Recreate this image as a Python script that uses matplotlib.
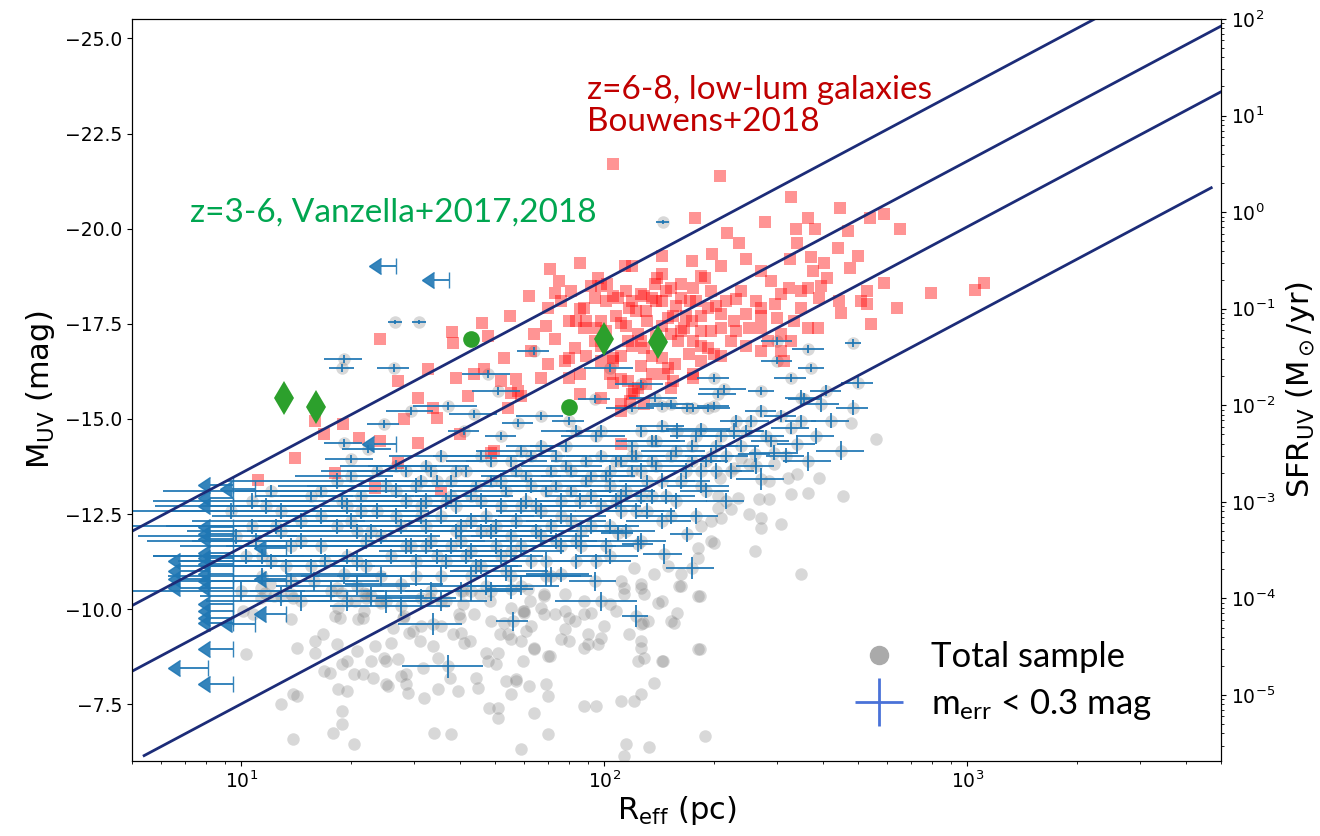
import numpy as np
import matplotlib
matplotlib.use("Agg")
import matplotlib.pyplot as plt
from matplotlib.lines import Line2D
from matplotlib.ticker import MultipleLocator

plt.rcParams['mathtext.rm'] = 'Lato'
plt.rcParams['mathtext.it'] = 'Lato:italic'
plt.rcParams['mathtext.bf'] = 'Lato:bold'

# ---- z=6-8 lensed low-luminosity galaxies (Bouwens+2018): R_eff [pc], M_UV ----
bouwens_r = [106, 208, 327, 447, 590, 540, 178, 365, 277, 338, 380, 654, 470, 218, 235, 340,
             440, 198, 325, 500, 245, 372, 86, 402, 475, 71, 114, 377, 795, 590, 530, 640,
             530, 544, 1110, 1050, 410, 450, 390, 365, 349, 322, 307, 295, 271, 246, 231, 210,
             193, 189, 176, 163, 153, 144, 138, 135, 126, 117, 109, 102, 96, 94, 86, 80,
             88, 98, 111, 124, 150, 153, 166, 176, 193, 210, 228, 250, 271, 300, 307, 283,
             307, 313, 333, 365, 387, 160, 171, 185, 201, 176, 150, 144, 129, 116, 106, 94,
             83, 78, 86, 104, 116, 135, 155, 98, 86, 119, 129, 153, 24.1, 38.1, 46.1, 55.1,
             38.4, 47.8, 27.1, 32.7, 39.1, 30.7, 33.8, 34.5, 28.1, 19.1, 16.9, 21.1, 24.1, 30.7,
             27.1, 18.1, 42.2, 43.9, 46.7, 53, 52, 57.2, 58, 54.4, 62.9, 64, 75, 73,
             62, 70, 88, 95, 73, 80, 70, 67, 80, 106, 111, 111, 121, 130, 146, 157,
             176, 129, 140, 163, 185, 49.7, 35.6, 111, 11.1, 14.1, 16, 40.1, 48.9, 23.4, 55.5, 59,
             106, 118, 124, 111, 511, 444,
             81, 92, 101, 108, 115, 122, 131, 139, 148, 158,
             168, 179, 197, 217, 238, 262, 288,
             224, 246, 197, 174, 139, 119, 98, 89, 111, 135,
             185, 210, 271, 327, 349, 396, 271, 174, 144, 119,
             210, 83.5, 76.1, 69,
             98, 106, 119, 130, 144, 155, 172, 185, 203, 89,
             101, 115, 126, 144, 163, 98, 126, 185, 231, 271]
bouwens_m = [-21.71, -21.39, -20.82, -20.53, -20.39, -20.29, -20.29, -20.29, -20.18, -20.0, -20.0, -20.0,
             -19.95, -19.89, -19.61, -19.61, -19.5, -19.34, -19.21, -19.29, -19.21, -19.26, -19.11, -19.11,
             -18.97, -18.95, -19.03, -18.89, -18.32, -18.58, -18.37, -17.92, -18.03, -17.5, -18.58, -18.39,
             -18.71, -17.79, -18.18, -18.45, -17.92, -18.45, -18.29, -18.03, -17.92, -17.76, -18.16, -17.76,
             -17.92, -18.71, -18.45, -18.18, -18.45, -18.82, -18.55, -18.18, -18.29, -17.92, -18.18, -18.55,
             -18.71, -18.18, -17.89, -17.58, -17.39, -17.58, -17.53, -17.24, -17.66, -17.24, -17.39, -17.05,
             -16.87, -17.39, -17.58, -17.39, -17.39, -17.66, -17.24, -17.05, -16.79, -16.53, -17.58, -17.39,
             -17.39, -17.05, -16.71, -16.53, -16.71, -16.18, -16.34, -16.61, -16.87, -17.05, -16.61, -17.05,
             -16.87, -16.53, -16.18, -16.18, -16.0, -16.18, -16.0, -15.55, -15.66, -15.66, -15.39, -15.82,
             -17.11, -17.29, -17.53, -17.71, -17.0, -17.18, -16.0, -16.32, -16.08, -15.55, -15.29, -15.03,
             -15.0, -14.87, -14.61, -14.5, -14.42, -14.37, -13.84, -13.58, -15.61, -16.18, -16.32, -16.61,
             -16.0, -16.05, -15.74, -15.29, -16.79, -17.24, -18.63, -18.32, -18.24, -17.92, -17.92, -17.39,
             -17.11, -16.61, -16.45, -16.08, -16.08, -16.53, -16.05, -15.39, -15.74, -15.92, -16.18, -16.45,
             -16.08, -18.24, -18.71, -18.55, -18.76, -14.16, -13.11, -14.34, -13.39, -13.97, -14.95, -14.61,
             -14.11, -13.18, -15.68, -15.61, -15.95, -15.47, -15.82, -15.21, -18.11, -18.11,
             -18.37, -18.5, -18.11, -17.71, -18.37, -17.84, -17.58, -18.11, -18.37, -17.97,
             -17.71, -18.11, -18.37, -18.11, -18.37, -18.11, -18.63,
             -17.05, -16.92, -17.32, -17.58, -17.18, -16.92, -16.92, -16.66, -16.66, -16.66,
             -16.92, -16.66, -16.79, -17.05, -18.37, -18.5, -18.89, -19.16, -19.29, -19.03,
             -19.03, -17.58, -18.11, -17.45,
             -18.5, -18.24, -18.11, -17.84, -18.11, -17.71, -18.11, -17.71, -17.97, -17.58,
             -17.32, -17.45, -17.05, -17.45, -17.32, -16.53, -16.39, -17.32, -17.32, -17.71]

# ---- z=3-6 compact sources (Vanzella+2017,2018) ----
vanz_diamond_r = [13.1, 16.1, 99.8, 140.5]
vanz_diamond_m = [-15.56, -15.30, -17.11, -17.01]
vanz_dot_r = [43.0, 80.0]
vanz_dot_m = [-17.11, -15.30]

# ---- this sample, m_err < 0.3 mag: R_eff, M_UV and their errors ----
det_r = [19.2, 18.9, 26.3, 29.4, 37.1, 24.7, 19.2, 22.4, 20.0, 43.9, 58, 47.8,
         51, 67, 94, 104, 119, 126, 153, 200, 176, 206, 64, 41.2,
         52, 80, 138, 300, 365, 485, 300, 372, 327, 500, 271, 356,
         485, 214, 193, 396, 349, 340, 365, 294, 271, 327, 228, 185,
         159, 260, 200, 169, 144, 169, 146, 174, 124, 109, 94, 98,
         122, 56, 55.5, 76, 37.1, 33.8, 48.9, 31.3, 27.6, 19.2, 14.6, 16.6,
         18.9, 20.8, 22.8, 24.3, 26.7, 29.4, 31.3, 13.7, 17.7, 12.1, 25.1, 20.1,
         15.6, 31.3, 33.4, 36.7, 39.1, 41.7, 44.4, 47.3, 50.4, 53.7, 57.2, 60.9,
         65, 69.1, 73.6, 35.6, 40.4, 48.9, 59, 33.4, 43, 52, 55.5, 45.8,
         37.9, 67, 76.1, 71.4, 32.3, 30.3, 81, 86, 92, 98, 104, 111,
         119, 126, 135, 144, 153, 163, 174, 185, 83.5, 101, 78.6, 95,
         115, 139, 108, 131, 89, 73.6, 197, 210, 224, 238, 254, 191,
         217, 279, 307, 179, 11.7, 11.0, 12.9, 11.4, 12.9, 10.3, 145, 26.5,
         30.9,
         9.38, 10.7, 12.1, 13.7, 15.6, 16.6, 10.0, 14.6, 11.4, 18.3, 19.5, 21.4,
         22.1, 23.6, 25.9, 27.6, 28.5, 30.3, 32.3, 34.5, 35.6, 36.7, 20.8, 26.7,
         23.6, 39.1, 40.4, 43, 44.4, 45.8, 48.9, 50.4, 52, 53.7, 57.2, 59,
         60.9, 62.9, 65, 69.1, 71.4, 76.1, 78.6, 81, 86.4, 89, 92, 95,
         55.5, 67, 83.5, 47.3, 41.7, 101, 108, 111, 115, 122, 131, 135,
         139, 148, 158, 168, 179, 191, 203, 104, 122, 153, 98, 126,
         144, 217, 246, 262, 288, 317, 349, 384, 422, 450, 231, 271,
         409, 20.1, 24.3, 31.3, 37.9, 43, 14.6, 12.9, 33.4, 55.5, 73.6, 119,
         18.3, 19.5, 20.8, 22.1, 25.1, 26.7, 28.5, 30.3, 32.3, 34.5, 37.9, 40.4,
         43, 45.8, 48.9, 52, 55.5, 59, 62.9, 67, 71.4, 76.1, 81, 86.4,
         92, 98, 104, 111, 119, 126, 135, 144, 158, 174, 185, 203,
         17, 15.9, 13.3, 12.5, 19.5, 22.8, 27.6, 35.6, 43, 59, 69.1, 83.5,
         104, 126, 45.8, 39.1, 62.9, 35.6, 32.3, 28.5, 21.4, 16.6, 10.7, 9.7]
det_m = [-16.58, -16.34, -16.34, -15.21, -15.34, -14.87, -14.37, -14.21, -13.95, -15.13, -14.89, -16.18,
         -15.74, -15.08, -15.53, -16.34, -15.29, -15.92, -15.39, -16.08, -15.29, -15.66, -16.79, -14.68,
         -14.55, -14.95, -15.55, -17.05, -16.84, -17.0, -16.53, -16.34, -16.08, -15.95, -15.74, -15.53,
         -15.29, -15.79, -15.29, -15.39, -15.55, -14.34, -13.89, -14.11, -13.42, -14.76, -14.68, -14.74,
         -14.68, -14.08, -15.34, -15.29, -15.34, -11.97, -11.45, -11.08, -11.71, -12.0, -10.74, -10.21,
         -9.82, -9.68, -10.53, -10.92, -8.5, -9.61, -10.47, -10.29, -10.66, -10.92, -12.32, -11.66,
         -12.84, -11.26, -12.05, -10.87, -13.11, -11.66, -12.45, -10.74, -10.47, -11.26, -10.21, -13.5,
         -12.97, -13.37, -13.63, -12.84, -12.05, -11.39, -13.24, -12.45, -11.66, -11.0, -13.63, -12.84,
         -12.05, -11.26, -13.24, -10.87, -10.47, -13.89, -14.16, -11.79, -12.32, -12.71, -11.92, -11.13,
         -13.37, -12.58, -11.66, -10.87, -12.84, -11.26, -13.63, -12.84, -12.18, -14.03, -13.24, -12.58,
         -14.29, -13.63, -12.97, -12.32, -14.03, -13.37, -14.29, -13.63, -11.79, -11.66, -14.29, -14.55,
         -12.05, -14.42, -13.89, -12.58, -13.37, -14.03, -14.03, -14.55, -13.63, -14.29, -14.95, -13.11,
         -12.84, -14.55, -15.08, -12.45, -12.71, -11.79, -12.05, -10.87, -10.34, -11.39, -20.18, -17.55,
         -17.55,
         -12.58, -12.18, -13.11, -11.66, -11.13, -12.45, -10.47, -10.21, -11.39, -12.18, -11.39, -12.97,
         -11.79, -12.58, -11.39, -12.18, -12.84, -10.87, -11.66, -13.37, -12.45, -11.26, -10.61, -13.76,
         -13.63, -12.71, -11.79, -12.97, -11.13, -12.05, -13.37, -12.18, -11.39, -13.11, -12.32, -11.66,
         -13.5, -11.26, -12.71, -13.11, -12.18, -12.84, -13.76, -12.32, -11.66, -13.89, -12.97, -11.26,
         -13.89, -14.29, -14.68, -10.61, -13.63, -13.5, -12.84, -13.89, -13.11, -14.03, -13.37, -14.42,
         -13.76, -12.97, -14.16, -13.63, -14.55, -13.89, -14.29, -12.18, -12.58, -12.45, -14.68, -14.68,
         -14.82, -14.03, -14.68, -13.76, -14.42, -14.03, -14.95, -14.55, -14.95, -14.16, -14.95, -15.21,
         -15.74, -12.32, -11.92, -12.71, -11.66, -10.87, -11.79, -12.58, -10.47, -10.87, -11.79, -13.63,
         -13.37, -12.71, -12.05, -11.13, -13.24, -12.45, -11.66, -13.24, -12.18, -11.39, -12.97, -12.18,
         -11.53, -12.84, -12.05, -13.37, -11.53, -12.71, -13.24, -11.92, -13.63, -12.45, -13.11, -12.05,
         -13.5, -12.71, -13.63, -12.97, -14.03, -12.97, -13.89, -13.37, -12.84, -13.89, -13.24, -13.63,
         -11.26, -10.74, -11.13, -12.18, -10.21, -10.34, -10.08, -10.21, -10.47, -10.61, -10.87, -11.26,
         -11.39, -11.79, -14.03, -13.63, -14.03, -14.03, -13.76, -13.63, -12.58, -13.11, -12.84, -11.92]
det_rerr = [2.3, 1.5, 2.6, 4.4, 7.4, 2.5, 2.3, 3.4, 3.0, 6.6, 5.8, 7.2,
            7.7, 10, 9.4, 16, 18, 19, 23, 20, 18, 25, 6.4, 4.1,
            5.2, 8, 21, 30, 37, 24, 30, 30, 33, 50, 22, 36,
            49, 32, 29, 48, 35, 41, 55, 44, 41, 39, 46, 37,
            32, 26, 20, 17, 14, 17, 18, 26, 12, 11, 14, 25,
            10, 5.6, 8.3, 15, 9.3, 6.8, 9.8, 7.8, 8.3, 5.8, 7.3, 7.5,
            7.6, 10.4, 10.3, 9.7, 9.3, 11.8, 11, 6.9, 7.1, 5.4, 8.8, 6.0,
            4.7, 9.4, 10, 14.7, 13.7, 16.7, 13.3, 16.6, 17.6, 16.1, 17.2, 18.3,
            19.5, 20.7, 18.4, 14.2, 12.1, 12.2, 14.8, 13.4, 15, 15.6, 16.7, 13.7,
            11.4, 16.8, 19, 21.4, 12.9, 12.1, 20, 21.5, 23, 19.6, 26, 28,
            24, 31, 27, 29, 31, 33, 35, 28, 21, 20, 16, 19,
            23, 28, 22, 26, 18, 15, 30, 32, 34, 29, 30, 29,
            26, 33, 31, 27, 5.9, 5.5, 5.8, 5.1, 5.2, 4.6, 6, 1.2,
            1.4,
            5.6, 5.9, 6.0, 6.9, 7.8, 8.3, 5.0, 6.6, 5.7, 8.2, 8.8, 8.6,
            8.8, 9.4, 10.4, 11, 10, 12, 11.3, 10.3, 12.5, 12.8, 8.3, 8,
            7, 13.7, 14.1, 12.9, 13.3, 16, 14.7, 15.1, 15.6, 16.1, 17.2, 17.7,
            15.2, 18.9, 19.5, 17.3, 17.9, 19, 19.7, 20.3, 21.6, 17.8, 23, 23.8,
            13.9, 13.4, 16.7, 14.2, 12.5, 20.2, 21.6, 22.2, 23, 24.4, 26.2, 27,
            27.8, 29.6, 31.6, 33.6, 26.9, 28.7, 30.5, 20.8, 24.4, 30.6, 19.6, 25.2,
            21.6, 32.6, 29.5, 31.4, 34.6, 38, 35, 46, 51, 68, 23, 27,
            41, 9, 10.9, 12.5, 15.2, 15, 7.3, 6.5, 11.7, 16.7, 22, 24,
            9.2, 9.8, 10.4, 11, 12.5, 13.4, 14.2, 15.1, 16, 17, 17, 18,
            19, 20, 20, 20, 22, 22, 22, 24, 22, 25, 24, 26,
            25, 28, 28, 30, 28, 32, 32, 34, 34, 36, 36, 36,
            8.5, 8, 6.7, 6.3, 8, 9, 10, 12, 13, 16, 17, 18,
            20, 22, 12, 13, 15, 10, 10, 9, 10, 7, 5, 4.5]
det_merr = [0.1, 0.1, 0.1, 0.1, 0.1, 0.1, 0.1, 0.1, 0.1, 0.1, 0.1, 0.1,
            0.1, 0.1, 0.1, 0.1, 0.1, 0.1, 0.1, 0.1, 0.1, 0.1, 0.1, 0.1,
            0.1, 0.1, 0.1, 0.1, 0.1, 0.1, 0.1, 0.1, 0.1, 0.15, 0.1, 0.15,
            0.2, 0.1, 0.1, 0.2, 0.2, 0.25, 0.25, 0.2, 0.3, 0.15, 0.2, 0.15,
            0.2, 0.2, 0.1, 0.1, 0.1, 0.2, 0.25, 0.3, 0.2, 0.2, 0.25, 0.25,
            0.3, 0.25, 0.25, 0.2, 0.3, 0.3, 0.25, 0.25, 0.25, 0.25, 0.2, 0.2,
            0.2, 0.25, 0.2, 0.25, 0.2, 0.2, 0.2, 0.2, 0.25, 0.2, 0.3, 0.15,
            0.15, 0.15, 0.15, 0.2, 0.2, 0.2, 0.15, 0.2, 0.2, 0.25, 0.15, 0.2,
            0.2, 0.25, 0.15, 0.25, 0.25, 0.15, 0.15, 0.2, 0.2, 0.2, 0.2, 0.2,
            0.15, 0.2, 0.2, 0.25, 0.2, 0.2, 0.15, 0.2, 0.2, 0.15, 0.2, 0.2,
            0.15, 0.2, 0.2, 0.2, 0.15, 0.2, 0.15, 0.2, 0.2, 0.2, 0.15, 0.15,
            0.2, 0.15, 0.15, 0.2, 0.15, 0.15, 0.2, 0.15, 0.2, 0.15, 0.15, 0.2,
            0.2, 0.15, 0.15, 0.2, 0.2, 0.2, 0.2, 0.2, 0.25, 0.2, 0.05, 0.05,
            0.05,
            0.2, 0.2, 0.15, 0.2, 0.2, 0.2, 0.25, 0.25, 0.2, 0.2, 0.2, 0.15,
            0.2, 0.2, 0.2, 0.2, 0.2, 0.25, 0.2, 0.15, 0.2, 0.2, 0.25, 0.15,
            0.15, 0.2, 0.2, 0.15, 0.2, 0.2, 0.15, 0.2, 0.2, 0.15, 0.2, 0.2,
            0.15, 0.2, 0.2, 0.15, 0.2, 0.2, 0.15, 0.2, 0.2, 0.15, 0.2, 0.2,
            0.15, 0.15, 0.15, 0.25, 0.15, 0.15, 0.2, 0.15, 0.2, 0.15, 0.15, 0.15,
            0.15, 0.2, 0.15, 0.2, 0.15, 0.15, 0.15, 0.2, 0.2, 0.2, 0.15, 0.15,
            0.15, 0.2, 0.15, 0.2, 0.15, 0.2, 0.15, 0.2, 0.2, 0.25, 0.15, 0.15,
            0.15, 0.2, 0.2, 0.2, 0.2, 0.25, 0.2, 0.2, 0.25, 0.25, 0.2, 0.15,
            0.2, 0.2, 0.2, 0.2, 0.2, 0.2, 0.2, 0.2, 0.2, 0.2, 0.2, 0.2,
            0.2, 0.2, 0.2, 0.2, 0.2, 0.2, 0.2, 0.2, 0.15, 0.2, 0.15, 0.2,
            0.15, 0.2, 0.15, 0.2, 0.15, 0.2, 0.15, 0.2, 0.2, 0.15, 0.2, 0.2,
            0.2, 0.25, 0.2, 0.2, 0.25, 0.25, 0.25, 0.25, 0.25, 0.25, 0.25, 0.2,
            0.2, 0.2, 0.15, 0.15, 0.15, 0.15, 0.15, 0.15, 0.2, 0.15, 0.2, 0.2]

# unresolved sources: R_eff upper limits
lim_r = [9.5] * 18 + [8.1] * 5 + [10.9, 10.9, 13.3, 13.3, 13.3, 26.7, 26.7, 37.4]
lim_m = [-13.26, -12.92, -12.71, -12.16, -11.97, -11.84, -11.47, -11.34, -11.18, -10.92, -10.74, -10.55,
         -10.13, -9.95, -9.76, -9.63, -8.95, -8.03,
         -11.26, -11.0, -10.79, -10.55, -8.45,
         -13.16, -9.61, -9.87, -11.6, -10.79, -14.34, -19.03, -18.66]
lim_rerr = [1.3] * 23 + [1.5, 1.5, 1.6, 1.6, 1.6, 3.5, 2.5, 3.5]

# rest of the total sample (m_err >= 0.3 mag)
faint_r = [349, 181, 184, 190, 137, 126, 121, 145, 129, 126, 115, 113, 133, 156, 161, 141,
           128, 113, 104, 100, 96, 90, 88, 88, 95, 76, 78, 70, 70, 70, 69, 64,
           62, 57, 55.5, 59, 64, 51, 51, 48, 45, 39.5, 37.9, 34, 31.9, 28.8,
           28.5, 25.4, 27.6, 27.1, 24.8, 22.8, 21.6, 19.5, 18.9, 18.9, 20.4, 17.9, 18.5, 20.8,
           23.3, 25.9, 29.0, 31.3, 35.6, 39.8, 41.1, 34.9, 47.9, 51, 55.5, 60.2, 68.4, 62.9,
           53, 48.9, 43.9, 18.1, 18.5, 21, 21.8, 24.3, 21.8, 18.9, 28.1, 40.4, 80, 92,
           88, 78, 68.4, 61.6, 124, 111,
           562, 479, 456, 390, 340, 327, 365, 307, 271, 260, 250, 271, 285, 266, 233, 224,
           206, 206, 210, 197, 200, 181, 185, 208, 228, 238, 250, 294, 285, 320, 184, 181,
           163, 144, 137, 126, 126, 113, 108, 132, 144, 126, 117, 98, 90, 88, 83, 80,
           78, 71, 64, 59, 54.4, 55.5, 60, 67, 68.4, 73, 153, 159, 129, 111, 121, 126,
           163, 150, 181, 197,
           10.3, 14.2, 13.9, 16, 16, 16.8, 18.3, 18.9, 17.6, 18.7, 21.7, 20.6, 24.1, 22.1, 26.2, 27.9,
           29.8, 31, 33.8, 34.9, 38.4, 40, 42.7, 47.2, 50.4, 53.7, 57.2, 59.7, 44.4, 37.6, 31.7, 28.5,
           25.1, 25.1, 20.4, 23.1, 19.5, 51.7, 60.9, 62.6, 59.7, 48.5, 45.5, 40.8, 36.7, 40.8, 33.1,
           12.0, 13.9, 18.3, 22.1, 11.3, 11.3,
           10.1, 10.8, 13.7, 16.9, 14.2, 12.9, 13.9, 11.6, 12.3, 13.7]
faint_m = [-10.92, -10.34, -8.95, -6.66, -8.05, -7.76, -7.58, -8.63, -8.71, -9.16, -6.47, -6.13,
           -6.39, -9.63, -10.61, -10.16, -9.63, -10.55, -10.13, -9.55, -9.08, -9.34, -8.97, -7.45,
           -7.45, -9.21, -9.47, -8.76, -6.71, -7.71, -8.03, -8.95, -7.97, -8.16, -7.76, -6.32,
           -7.26, -7.39, -7.13, -7.39, -7.92, -7.84, -6.71, -6.74, -7.66, -7.79, -8.03, -7.97,
           -8.24, -8.68, -8.71, -8.63, -8.29, -8.63, -7.32, -6.97, -6.47, -6.74, -7.89, -8.89,
           -9.03, -9.11, -9.37, -9.55, -9.55, -9.87, -9.11, -7.89, -8.63, -8.84, -9.21, -9.89,
           -9.87, -9.55, -9.63, -9.68, -9.87, -9.82, -10.03, -9.74, -9.95, -10.16, -10.42, -10.42,
           -9.82, -9.37, -9.76, -9.89, -10.21, -10.39, -10.34, -10.53, -8.63, -7.58,
           -14.47, -14.89, -12.97, -13.45, -13.55, -13.03, -13.05, -12.24, -12.13, -11.53, -12.5, -12.39,
           -12.89, -12.89, -12.92, -12.63, -12.97, -12.66, -12.39, -12.32, -11.74, -11.61, -12.18, -13.45,
           -13.71, -13.97, -13.82, -13.82, -13.37, -13.45, -10.34, -8.95, -10.61, -10.21, -10.92, -10.55,
           -9.61, -10.39, -9.95, -9.68, -8.63, -8.97, -9.34, -9.24, -9.08, -9.87, -9.68, -9.16,
           -9.95, -8.76, -8.97, -9.16, -9.34, -10.03, -9.95, -10.03, -10.39, -9.87, -9.68, -9.89,
           -10.39, -10.74, -11.08, -10.66, -10.92, -11.13, -11.34, -11.79,
           -8.82, -8.97, -7.76, -9.16, -8.84, -9.34, -9.08, -8.55, -8.32, -9.76, -9.76, -10.21,
           -10.21, -10.29, -9.5, -9.76, -9.42, -9.16, -9.03, -8.71, -9.34, -9.76, -9.16, -8.84,
           -8.55, -8.11, -8.11, -8.63, -8.18, -8.18, -8.45, -8.29, -8.03, -8.63, -8.29, -8.18,
           -7.84, -9.34, -9.42, -10.21, -9.95, -10.21, -10.39, -10.13, -10.21, -10.47, -10.29,
           -10.66, -10.29, -10.55, -10.39, -10.55, -10.29,
           -9.95, -9.87, -9.74, -8.37, -7.71, -7.5, -6.58, -10.42, -10.34, -10.39]

# constant SFR surface-density lines: log10(Sigma_SFR / Msun yr^-1 kpc^-2) and R_eff span [pc]
sigma_log = [0.50, -0.27, -0.95, -1.89]
sigma_rmin = [4.9, 4.9, 4.9, 5.4]
sigma_rmax = [6000, 6000, 5200, 4700]

XLIM = (5, 5000)
YLIM = (-6.01, -25.51)
SFR_LIM = (10 ** -5.683, 100)

fig = plt.figure(figsize=(13.2, 8.36), dpi=100)
ax = fig.add_axes([0.1, 0.0897, 0.825, 0.8876])
ax2 = ax.twinx()

# total sample in grey underneath everything
gray_r = faint_r + det_r
gray_m = faint_m + det_m
ax.plot(gray_r, gray_m, 'o', color='gray', alpha=0.3, ms=9, mew=0, zorder=1)

ax.plot(bouwens_r, bouwens_m, 's', color='red', alpha=0.42, ms=8.5, mew=0, zorder=2)

ax.errorbar(det_r, det_m, xerr=det_rerr, yerr=det_merr, fmt='none',
            ecolor='#1f77b4', elinewidth=1.4, capsize=0, alpha=0.9, zorder=3)
ax.errorbar(lim_r, lim_m, xerr=lim_rerr, xuplims=True, fmt='none',
            ecolor='#1f77b4', elinewidth=1.4, capsize=6, alpha=0.9, zorder=3)

# Sigma_SFR = SFR / (2 pi R^2), drawn in SFR units of the right axis
for lg, r0, r1 in zip(sigma_log, sigma_rmin, sigma_rmax):
    rr = np.logspace(np.log10(r0), np.log10(r1), 50)
    sfr = 10 ** lg * 2 * np.pi * (rr / 1000.) ** 2
    ax.plot(rr, sfr, color='#1c2c78', lw=2, transform=ax2.transData, zorder=4)

ax.plot(vanz_diamond_r, vanz_diamond_m, 'd', color='#2ca02c', ms=17, mew=0, zorder=5)
ax.plot(vanz_dot_r, vanz_dot_m, 'o', color='#2ca02c', ms=12, mew=0, zorder=5)

ax.set_xscale('log')
ax.set_xlim(*XLIM)
ax.set_ylim(*YLIM)
ax.yaxis.set_major_locator(MultipleLocator(2.5))
ax.tick_params(labelsize=13.5)

ax2.set_yscale('log')
ax2.set_ylim(*SFR_LIM)
ax2.tick_params(labelsize=13.5)

ax.set_xlabel(r'R$_{\rm eff}$ (pc)', fontsize=22, labelpad=1)
ax.set_ylabel(r'M$_{\rm UV}$ (mag)', fontsize=22, labelpad=6)
ax2.set_ylabel(r'SFR$_{\rm UV}$ (M$_\odot$/yr)', fontsize=22, labelpad=6)

ax.text(0.418, 0.925, 'z=6-8, low-lum galaxies\nBouwens+2018', transform=ax.transAxes,
        ha='left', va='top', fontsize=24, family='Lato', color='#c00000', linespacing=1.1)
ax.text(0.053, 0.739, 'z=3-6, Vanzella+2017,2018', transform=ax.transAxes,
        ha='left', va='center', fontsize=24, family='Lato', color='#00a650')

handles = [Line2D([], [], ls='none', marker='o', ms=13, color='#aaaaaa'),
           Line2D([], [], ls='none', marker='+', ms=34, mew=2, color='#4a72d8')]
leg = ax.legend(handles, ['Total sample', r'm$_{\rm err}$ < 0.3 mag'], loc='lower left',
                bbox_to_anchor=(0.625, 0.01), frameon=False, prop={'family': 'Lato', 'size': 25},
                handletextpad=0.5, labelspacing=0.4)
for t in leg.get_texts():
    t.set_math_fontfamily('custom')

fig.savefig('out.png', dpi=100)
